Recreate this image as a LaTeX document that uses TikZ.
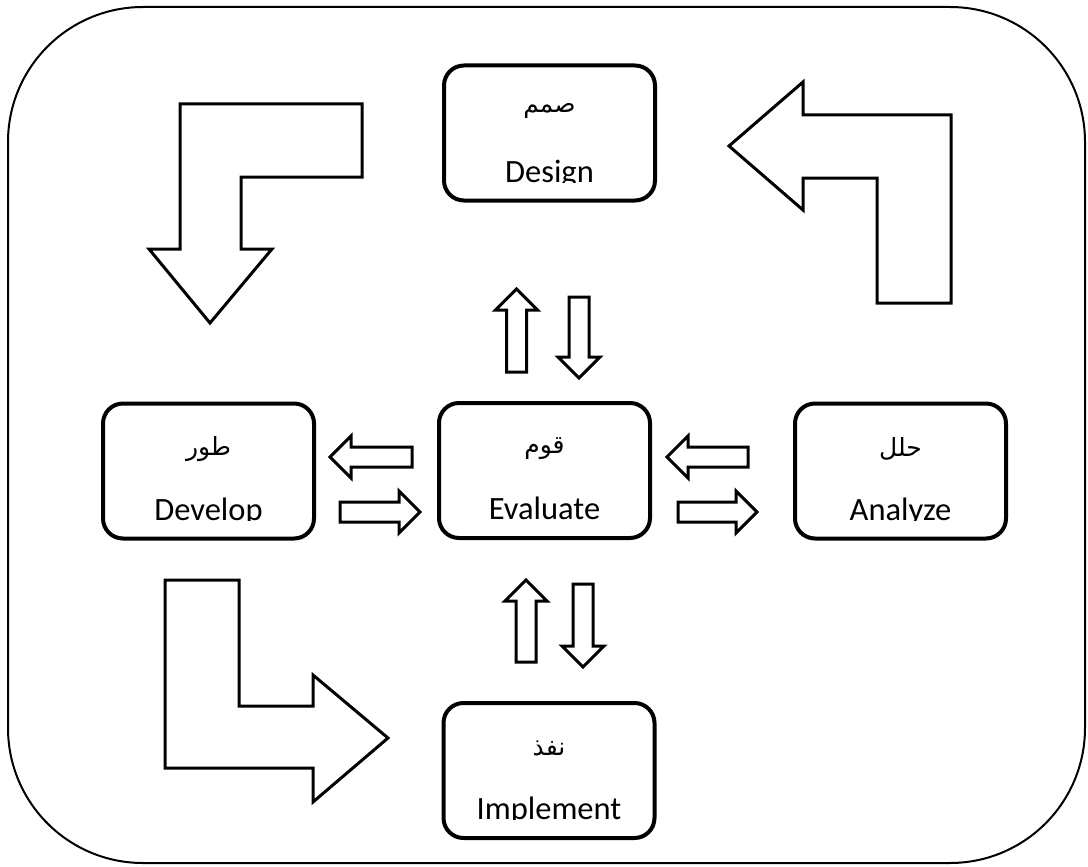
\documentclass[tikz,border=0pt]{standalone}
\usepackage{fontspec}
\setmainfont{Carlito}
\newfontfamily\arabicfont[Script=Arabic]{DejaVu Sans}
\TeXXeTstate=1
\usepackage{tikz}
\tikzset{>=latex}
\tikzset{
  pics/barrow/.style={code={
      \draw[arrowline] (0,-10) -- (#1-21,-10) -- (#1-21,-21) -- (#1,0) -- %%
      (#1-21,21) -- (#1-21,10) -- (0,10) -- cycle;
  }}
}

\begin{document}
\begin{tikzpicture}[x=1pt, y=-1pt,
  phase/.style={rectangle, rounded corners=20pt, line width=4pt, draw,
    minimum width=211pt, minimum height=135pt, inner sep=0pt},
  arrowline/.style={line width=3pt, line join=miter, fill=white},
  frame/.style={line width=2pt, rounded corners=135pt}]
  \newcommand{\arsize}{\arabicfont\fontsize{25}{28}\selectfont}
  \newcommand{\ensize}{\fontsize{32.5}{38}\selectfont}
  \newcommand{\phaselabel}[3]{%
    \node[font=\arsize] (#1-ar) at ([yshift=22pt]#1.center) {\beginR #2\endR};
    \begin{scope}
      \clip ([yshift=-49pt]#1.west) rectangle ([yshift=30pt]#1.east);
      \node[anchor=base, font=\ensize] (#1-en) at ([yshift=-49pt]#1.center) {#3};
    \end{scope}}

  \useasboundingbox (0,0) rectangle (1088,867);
  \draw[frame] (8,7) rectangle (1085,863);

  \node[phase] (design) at (549.5,133) {};
  \node[phase] (develop) at (208.5,471) {};
  \node[phase] (evaluate) at (544.5,470.5) {};
  \node[phase] (analyze) at (900.5,471) {};
  \node[phase] (implement) at (549,770.5) {};

  \phaselabel{design}{صمم}{Design}
  \phaselabel{develop}{طور}{Develop}
  \phaselabel{evaluate}{قوم}{Evaluate}
  \phaselabel{analyze}{حلل}{Analyze}
  \phaselabel{implement}{نفذ}{Implement}

  % big bent arrows
  \draw[arrowline] (180,104) -- (362,104) -- (362,177) -- (241,177) -- %%
  (241,249) -- (272,249) -- (210,323) -- (149,249) -- (180,249) -- cycle;
  \draw[arrowline] (729,146) -- (803,82) -- (803,115) -- (951,115) -- %%
  (951,303) -- (877,303) -- (877,178) -- (803,178) -- (803,210) -- cycle;
  \draw[arrowline] (165,580) -- (239,580) -- (239,706) -- (313,706) -- %%
  (313,675) -- (388,738) -- (313,802) -- (313,768) -- (165,768) -- cycle;

  % small arrows round evaluate
  \pic[rotate=180] at (412,457) {barrow=82};
  \pic at (340,512) {barrow=80};
  \pic[rotate=180] at (748,457) {barrow=81};
  \pic at (678,512) {barrow=79};
  \pic[rotate=90] at (516.5,372) {barrow=83};
  \pic[rotate=-90] at (579,297) {barrow=81};
  \pic[rotate=90] at (526,662) {barrow=82};
  \pic[rotate=-90] at (583,584) {barrow=83};
\end{tikzpicture}
\end{document}
